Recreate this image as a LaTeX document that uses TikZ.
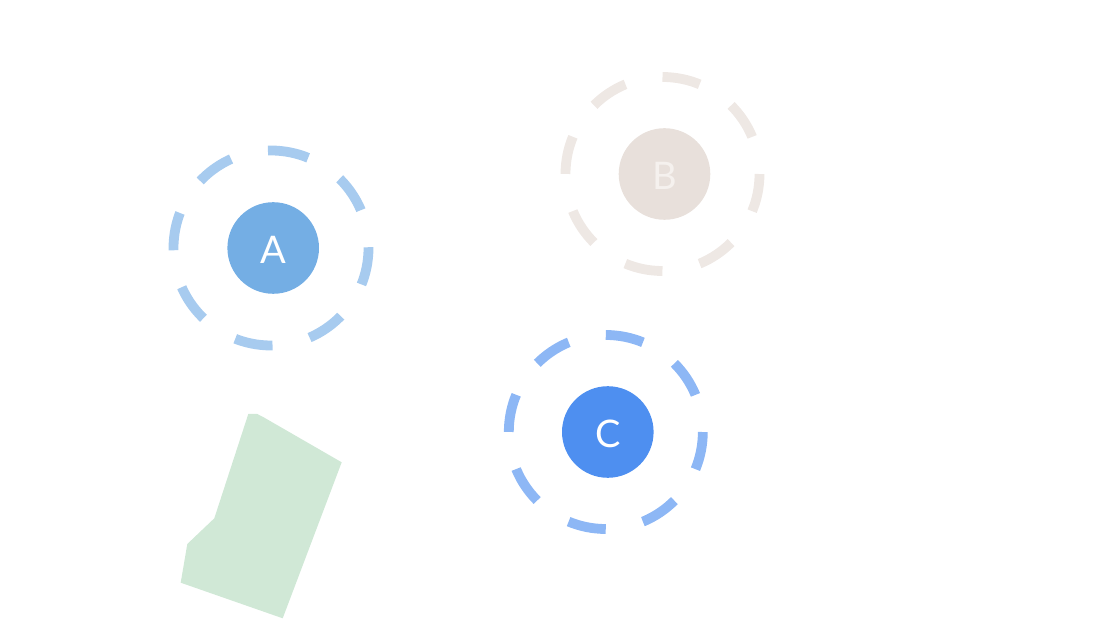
\documentclass[tikz,border=0pt]{standalone}
\usepackage{fontspec}
\setmainfont{Lato}
\definecolor{aFill}{HTML}{74AEE4}
\definecolor{aRing}{HTML}{A7CBEF}
\definecolor{bFill}{HTML}{E8E0DB}
\definecolor{bRing}{HTML}{EEE8E4}
\definecolor{bText}{HTML}{F5F1EE}
\definecolor{cFill}{HTML}{4E8FF0}
\definecolor{cRing}{HTML}{8DB7F5}
\definecolor{zone}{HTML}{D0E8D6}
\begin{document}
\begin{tikzpicture}[x=1pt,y=1pt,
  hub/.style={circle,minimum size=91.6pt,inner sep=0pt},
  hubtext/.style={inner sep=0pt,font=\fontsize{38}{38}\selectfont},
  ring/.style={line width=9.8pt,line cap=butt,dash pattern=on 38.1pt off 38.1pt}]
\useasboundingbox (0,0) rectangle (1099,626);
% green zone
\fill[zone] (248.3,212) -- (257.3,212) -- (264,208.5) -- (341.7,163.7) -- (282.7,7.7)
  -- (180.7,43.3) -- (187.3,82) -- (214.3,107.7) -- cycle;
% rings
\draw[ring,aRing] (271,378) ++(90:97.5) arc[start angle=90,delta angle=-360,radius=97.5];
\draw[ring,bRing] (662.5,452) ++(90:97) arc[start angle=90,delta angle=-360,radius=97];
\draw[ring,cRing] (605.8,194) ++(90:97) arc[start angle=90,delta angle=-360,radius=97];
% hubs
\node[hub,fill=aFill] (A) at (273.2,378) {};
\node[hub,fill=bFill] (B) at (664.5,452) {};
\node[hub,fill=cFill] (C) at (607.8,194) {};
\node[hubtext,text=white] (At) at ([yshift=-2pt]A.center) {A};
\node[hubtext,text=bText] (Bt) at ([yshift=-2pt]B.center) {B};
\node[hubtext,text=white] (Ct) at ([yshift=-2pt]C.center) {C};
\end{tikzpicture}
\end{document}
